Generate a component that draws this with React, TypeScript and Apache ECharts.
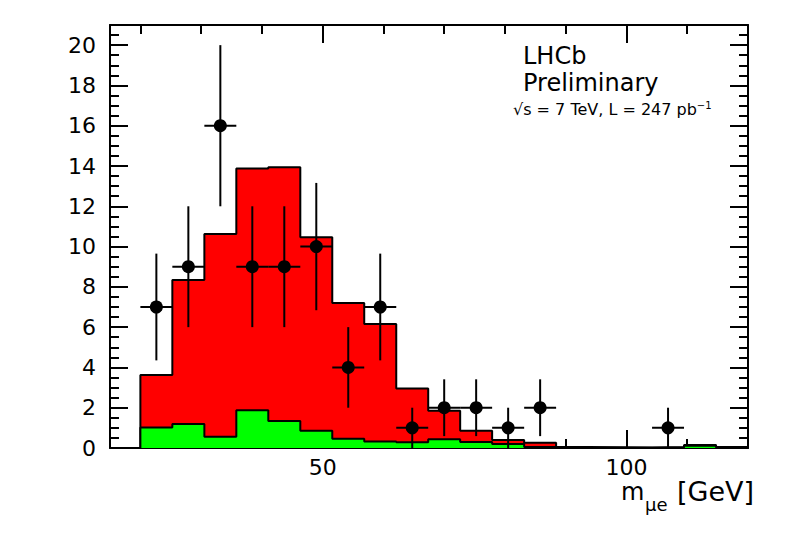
import React, { useEffect, useRef } from "react";
import * as echarts from "echarts";

// Bin edges of the m(mu e) histogram [GeV] (19 bins from 20 to 120)
const binEdges = [
  20, 25.26, 30.53, 35.79, 41.05, 46.32, 51.58, 56.84, 62.11, 67.37, 72.63,
  77.89, 83.16, 88.42, 93.68, 98.95, 104.21, 109.47, 114.74, 120,
];
// Total expected background (red, stacked total)
const totalBkg = [
  3.62, 8.34, 10.62, 13.88, 13.94, 10.46, 7.2, 6.15, 2.96, 1.85, 0.86, 0.4,
  0.26, 0.05, 0.04, 0.03, 0.05, 0.15, 0.05,
];
// Second component (green)
const greenBkg = [
  1.02, 1.19, 0.56, 1.88, 1.34, 0.86, 0.46, 0.32, 0.28, 0.43, 0.3, 0.2, 0.05,
  0.02, 0.01, 0.01, 0.02, 0.11, 0.02,
];
// Observed data counts (null = empty bin) and their errors
const dataCounts = [7, 9, 16, 9, 9, 10, 4, 7, 1, 2, 2, 1, 2, null, null, null, 1, null, null];
const dataErrors = [2.65, 3, 4, 3, 3, 3.16, 2, 2.65, 1, 1.41, 1.41, 1, 1.41, null, null, null, 1, null, null];

// Axis tick labels
const xMajorTicks = [50, 100];
const xMinorTicks = [20, 30, 40, 60, 70, 80, 90, 110];
const yMajorTicks = [0, 2, 4, 6, 8, 10, 12, 14, 16, 18, 20];

const FONT = "DejaVu Sans";

function stepData(values: number[]) {
  const pts: number[][] = [[binEdges[0], 0]];
  values.forEach((v, i) => pts.push([binEdges[i], v]));
  pts.push([binEdges[binEdges.length - 1], values[values.length - 1]]);
  pts.push([binEdges[binEdges.length - 1], 0]);
  return pts;
}

export default function App() {
  const ref = useRef<HTMLDivElement>(null);
  useEffect(() => {
    document.body.style.margin = "0";
    const chart = echarts.init(ref.current!, null, { renderer: "svg" });

    const yMinorTicks: number[] = [];
    for (let v = 0.5; v < 21; v += 0.5) {
      if (Math.abs(v % 2) > 1e-6) yMinorTicks.push(v);
    }

    const points: (number | null)[][] = [];
    dataCounts.forEach((c, i) => {
      if (c !== null) {
        const lo = binEdges[i];
        const hi = binEdges[i + 1];
        points.push([(lo + hi) / 2, c, (hi - lo) / 2, dataErrors[i] as number]);
      }
    });

    const black = "#000";
    const mkX = (position: string, major: boolean, labels: boolean) => ({
      type: "value",
      position,
      min: 15,
      max: 120,
      splitLine: { show: false },
      axisLine: { show: major, onZero: false, lineStyle: { color: black, width: 2 } },
      axisTick: {
        show: true,
        inside: true,
        length: major ? 18 : 9,
        lineStyle: { color: black, width: 2 },
        customValues: major ? xMajorTicks : xMinorTicks,
      },
      axisLabel: labels
        ? { show: true, customValues: xMajorTicks, color: black, fontSize: 22, fontFamily: FONT, margin: 8 }
        : { show: false },
    });
    const mkY = (position: string, major: boolean, labels: boolean) => ({
      type: "value",
      position,
      min: 0,
      max: 21,
      splitLine: { show: false },
      axisLine: { show: major, onZero: false, lineStyle: { color: black, width: 2 } },
      axisTick: {
        show: true,
        inside: true,
        length: major ? 18 : 9,
        lineStyle: { color: black, width: 2 },
        customValues: major ? yMajorTicks : yMinorTicks,
      },
      axisLabel: labels
        ? { show: true, customValues: yMajorTicks, color: black, fontSize: 22, fontFamily: FONT, margin: 14 }
        : { show: false },
    });

    chart.setOption({
      animation: false,
      backgroundColor: "#fff",
      grid: { left: 110, top: 25, right: 40, bottom: 86, containLabel: false, outerBoundsMode: "none" },
      xAxis: [
        mkX("bottom", true, true),
        mkX("bottom", false, false),
        mkX("top", true, false),
        mkX("top", false, false),
      ],
      yAxis: [
        mkY("left", true, true),
        mkY("left", false, false),
        mkY("right", true, false),
        mkY("right", false, false),
      ],
      series: [
        {
          type: "line",
          name: "total",
          xAxisIndex: 0,
          yAxisIndex: 0,
          step: "end",
          symbol: "none",
          data: stepData(totalBkg),
          lineStyle: { color: black, width: 2 },
          areaStyle: { color: "#ff0000", opacity: 1 },
          z: 2,
        },
        {
          type: "line",
          name: "green",
          xAxisIndex: 0,
          yAxisIndex: 0,
          step: "end",
          symbol: "none",
          data: stepData(greenBkg),
          lineStyle: { color: black, width: 2 },
          areaStyle: { color: "#00ff00", opacity: 1 },
          z: 3,
        },
        {
          type: "custom",
          name: "errors",
          xAxisIndex: 0,
          yAxisIndex: 0,
          data: points,
          z: 4,
          renderItem: (params: any, api: any) => {
            const x = api.value(0);
            const y = api.value(1);
            const ex = api.value(2);
            const ey = api.value(3);
            const a = api.coord([x, y - ey]);
            const b = api.coord([x, y + ey]);
            const c = api.coord([x - ex, y]);
            const d = api.coord([x + ex, y]);
            const style = { stroke: black, lineWidth: 2 };
            return {
              type: "group",
              children: [
                { type: "line", shape: { x1: a[0], y1: a[1], x2: b[0], y2: b[1] }, style },
                { type: "line", shape: { x1: c[0], y1: c[1], x2: d[0], y2: d[1] }, style },
              ],
            };
          },
        },
        {
          type: "scatter",
          name: "data",
          xAxisIndex: 0,
          yAxisIndex: 0,
          symbol: "circle",
          symbolSize: 13,
          itemStyle: { color: black, opacity: 1 },
          data: points.map((p) => [p[0], p[1]]),
          z: 5,
        },
      ],
      graphic: [
        {
          type: "text",
          left: 523,
          top: 44,
          style: { text: "LHCb", fontSize: 24, fontFamily: FONT, fill: black },
        },
        {
          type: "text",
          left: 523,
          top: 71,
          style: { text: "Preliminary", fontSize: 24, fontFamily: FONT, fill: black },
        },
        {
          type: "text",
          left: 513,
          top: 100,
          style: {
            text: "√s = 7 TeV, L = 247 pb{sup|−1}",
            fontSize: 16,
            fontFamily: FONT,
            fill: black,
            rich: { sup: { fontSize: 10, fontFamily: FONT, fill: black, padding: [0, 0, 9, 0] } },
          },
        },
        {
          type: "text",
          left: 621,
          top: 480,
          style: { text: "m", fontSize: 24, fontFamily: FONT, fill: black },
        },
        {
          type: "text",
          left: 645,
          top: 495,
          style: { text: "μe", fontSize: 18, fontFamily: FONT, fill: black },
        },
        {
          type: "text",
          left: 677,
          top: 478,
          style: { text: "[GeV]", fontSize: 27, fontFamily: FONT, fill: black },
        },
      ],
    });
    return () => chart.dispose();
  }, []);
  return (
    <div
      ref={ref}
      style={{ position: "absolute", left: 0, top: 0, width: 788, height: 534 }}
    />
  );
}
